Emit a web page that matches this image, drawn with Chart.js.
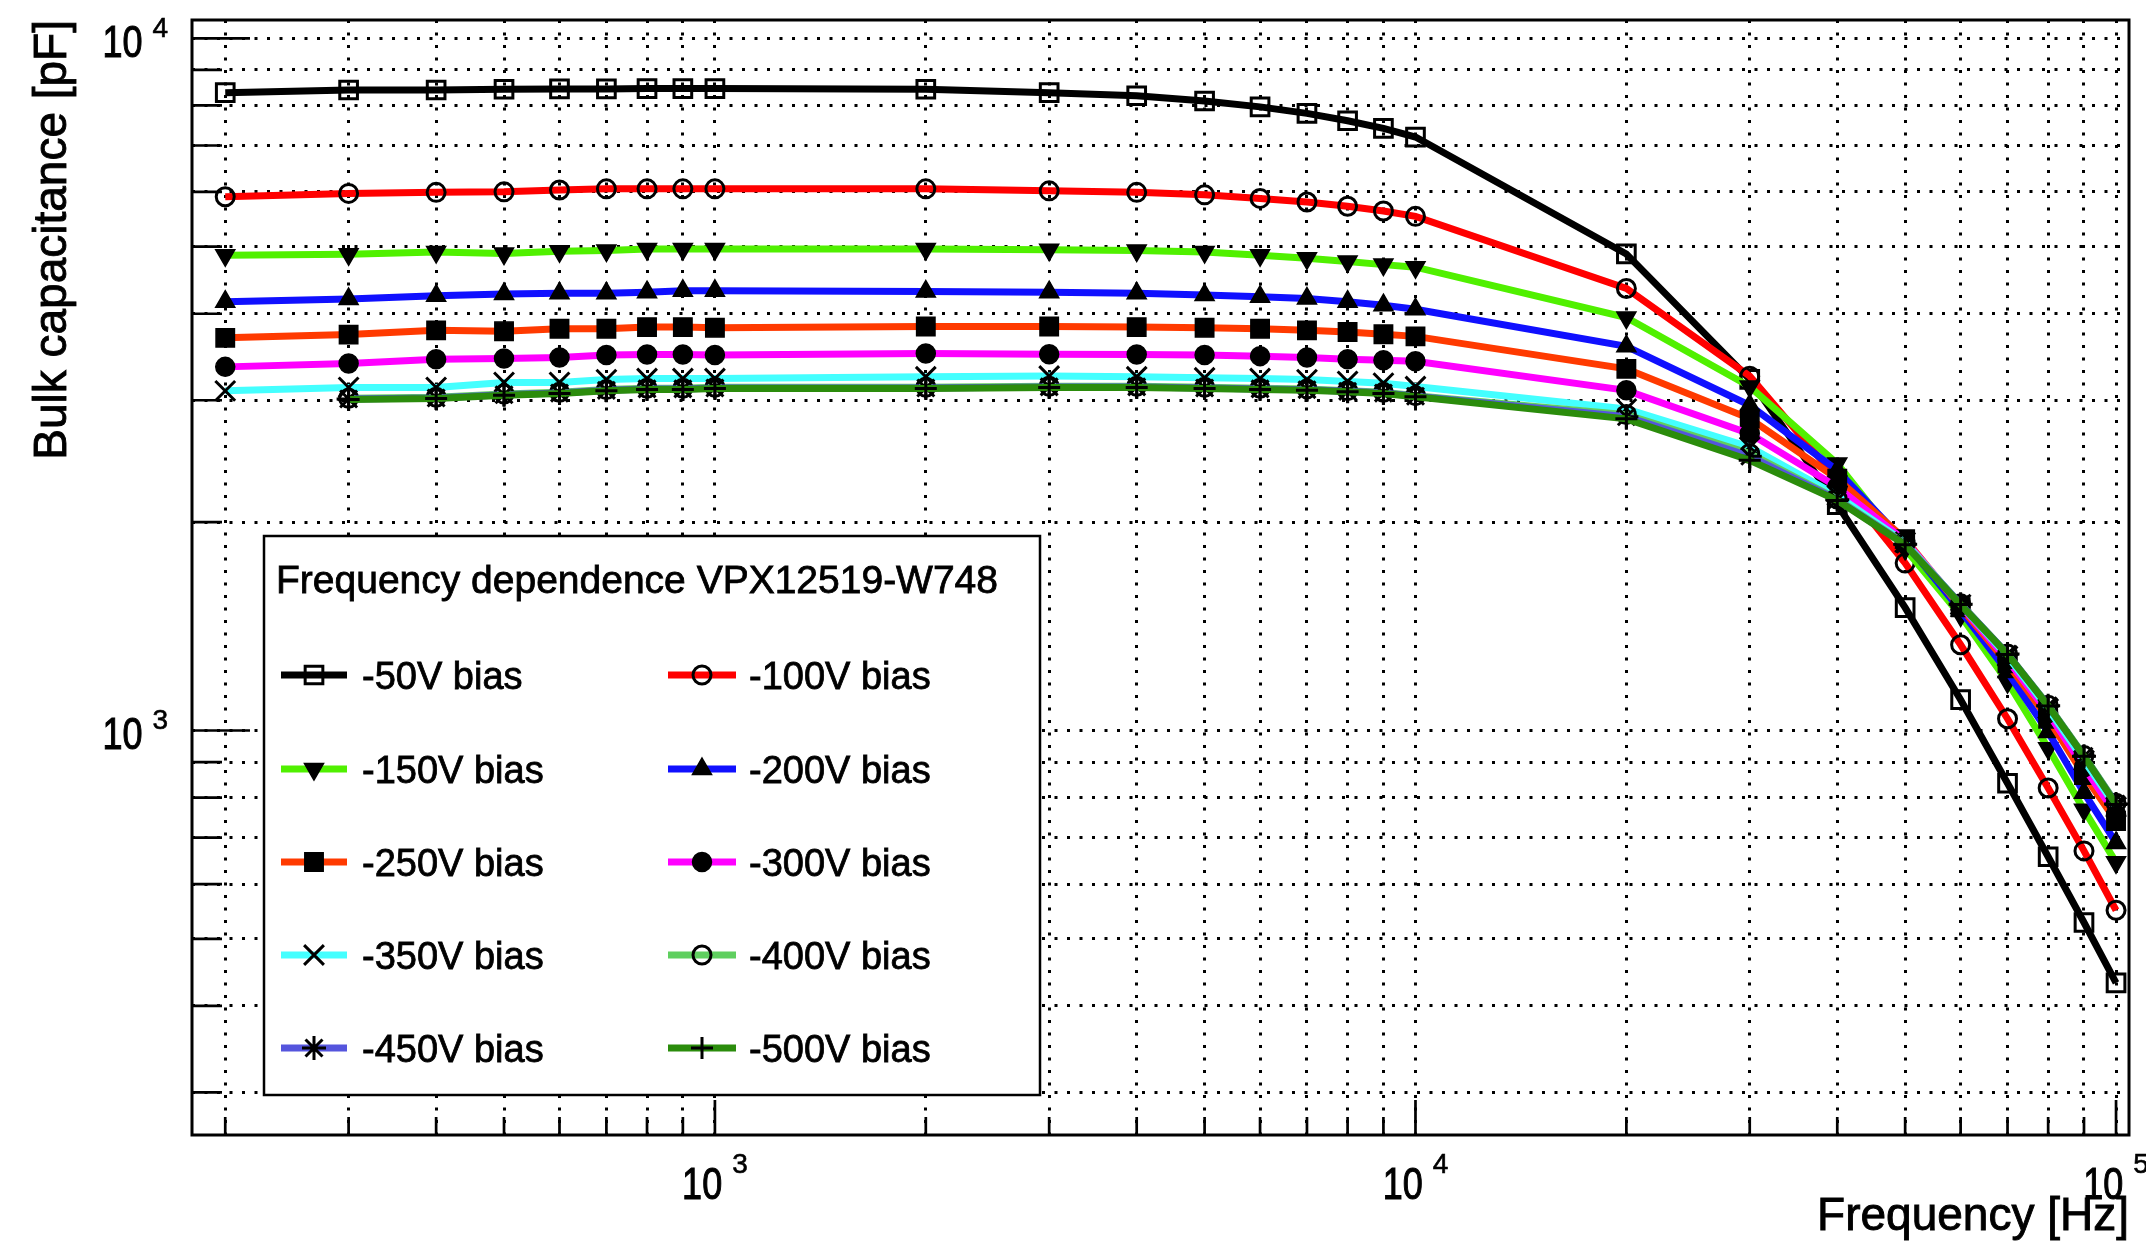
<!DOCTYPE html>
<html>
<head>
<meta charset="utf-8">
<script src="https://cdn.jsdelivr.net/npm/chart.js@4.4.1/dist/chart.umd.min.js"></script>
<style>
  html, body { margin: 0; padding: 0; background: #fff; }
  #wrap { width: 2146px; height: 1245px; }
</style>
</head>
<body>
<div id="wrap"><canvas id="chart" width="2146" height="1245"></canvas></div>
<script>
"use strict";

// frequency points [Hz]
var freqs = [200, 300, 400, 500, 600, 700, 800, 900, 1000,
             2000, 3000, 4000, 5000, 6000, 7000, 8000, 9000, 10000,
             20000, 30000, 40000, 50000, 60000, 70000, 80000, 90000, 100000];

// bulk capacitance [pF], one list per bias voltage
var cap50  = [8346, 8420, 8420, 8440, 8450, 8450, 8460, 8460, 8460, 8440, 8346, 8260, 8117, 7960, 7790, 7600, 7410, 7200, 4880, 3215, 2120, 1505, 1108, 839, 657, 528, 432];
var cap100 = [5903, 5969, 5990, 6000, 6037, 6060, 6060, 6060, 6060, 6060, 6020, 5990, 5940, 5870, 5800, 5720, 5630, 5530, 4351, 3250, 2311, 1745, 1330, 1040, 826, 670, 550];
var cap150 = [4861, 4877, 4912, 4887, 4925, 4937, 4962, 4962, 4962, 4962, 4950, 4937, 4912, 4861, 4810, 4760, 4710, 4670, 3950, 3140, 2430, 1830, 1466, 1175, 943, 768, 645];
var cap200 = [4163, 4200, 4247, 4272, 4282, 4282, 4297, 4317, 4317, 4307, 4297, 4282, 4257, 4232, 4207, 4163, 4115, 4060, 3590, 2950, 2376, 1870, 1490, 1215, 995, 813, 688];
var cap250 = [3692, 3732, 3785, 3773, 3805, 3805, 3826, 3826, 3818, 3834, 3834, 3826, 3818, 3805, 3785, 3765, 3737, 3710, 3330, 2822, 2311, 1890, 1507, 1250, 1040, 862, 740];
var cap300 = [3352, 3390, 3439, 3447, 3459, 3486, 3494, 3494, 3486, 3505, 3497, 3494, 3486, 3474, 3459, 3439, 3428, 3415, 3100, 2685, 2247, 1880, 1515, 1265, 1060, 885, 757];
var cap350 = [3095, 3131, 3131, 3183, 3183, 3213, 3224, 3224, 3224, 3244, 3251, 3244, 3232, 3224, 3213, 3194, 3175, 3140, 2915, 2568, 2186, 1870, 1520, 1280, 1075, 905, 775];
var cap400 = [null, 3020, 3030, 3062, 3080, 3108, 3122, 3122, 3132, 3132, 3143, 3143, 3132, 3122, 3115, 3097, 3080, 3046, 2860, 2512, 2160, 1862, 1524, 1290, 1088, 920, 785];
var cap450 = [null, 3012, 3022, 3055, 3072, 3100, 3115, 3115, 3125, 3125, 3136, 3136, 3125, 3115, 3107, 3090, 3072, 3040, 2840, 2490, 2155, 1858, 1522, 1290, 1086, 918, 783];
var cap500 = [null, 3007, 3017, 3050, 3067, 3095, 3110, 3110, 3120, 3120, 3131, 3131, 3120, 3110, 3102, 3085, 3067, 3034, 2820, 2457, 2150, 1855, 1520, 1288, 1085, 918, 782];

var seriesValues = [cap50, cap100, cap150, cap200, cap250, cap300, cap350, cap400, cap450, cap500];
var seriesLabels = ['-50V bias', '-100V bias', '-150V bias', '-200V bias', '-250V bias',
                    '-300V bias', '-350V bias', '-400V bias', '-450V bias', '-500V bias'];

// axis ticks (grid at every tick, labels on decades)
var xTicks = [200, 300, 400, 500, 600, 700, 800, 900, 1000,
              2000, 3000, 4000, 5000, 6000, 7000, 8000, 9000, 10000,
              20000, 30000, 40000, 50000, 60000, 70000, 80000, 90000, 100000];
var xMajor = [1000, 10000, 100000];
var xMajorExp = ['3', '4', '5'];
var yTicks = [300, 400, 500, 600, 700, 800, 900, 1000,
              2000, 3000, 4000, 5000, 6000, 7000, 8000, 9000, 10000];
var yMajor = [1000, 10000];
var yMajorExp = ['3', '4'];

var xTitle = 'Frequency [Hz]';
var yTitle = 'Bulk capacitance [pF]';
var legendTitle = 'Frequency dependence VPX12519-W748';

// styles
var lineColors = ['#000000', '#ff0000', '#50f000', '#1010ff', '#ff3a00',
                  '#ff00ff', '#44ffff', '#5fcf5f', '#5555dd', '#2b8c0c'];
var markStyles = ['rect', 'circle', 'triangle', 'triangle', 'rect',
                  'circle', 'crossRot', 'circle', 'star', 'cross'];
var markRotation = [0, 0, 180, 0, 0, 0, 0, 0, 0, 0];
var markRadius = [12.5, 9, 11, 11, 13, 9.5, 14, 9, 12, 11];
var markFilled = [false, false, true, true, true, true, false, false, false, false];

var FONT = "'Liberation Sans', Arial, Helvetica, sans-serif";

function makeDatasets() {
    var sets = [];
    for (var i = 0; i < seriesValues.length; i++) {
        var pts = [];
        for (var j = 0; j < freqs.length; j++) {
            if (seriesValues[i][j] !== null) {
                pts.push({x: freqs[j], y: seriesValues[i][j]});
            }
        }
        sets.push({
            label: seriesLabels[i],
            data: pts,
            borderColor: lineColors[i],
            borderWidth: 7,
            tension: 0,
            fill: false,
            pointStyle: markStyles[i],
            pointRotation: markRotation[i],
            pointRadius: markRadius[i],
            pointBorderColor: '#000',
            pointBackgroundColor: markFilled[i] ? '#000' : 'rgba(0,0,0,0)',
            pointBorderWidth: markFilled[i] ? 1.5 : 3,
            order: seriesValues.length - i
        });
    }
    return sets;
}

function isIn(list, v) {
    return list.indexOf(v) >= 0;
}

// filled text with a thin outline, the source renders its text rather heavy
function heavyText(ctx, str, x, y, weight) {
    ctx.fillText(str, x, y);
    ctx.lineWidth = weight;
    ctx.strokeText(str, x, y);
}

// "10" in a narrow face plus a raised exponent, like the ROOT labels
function drawPower(ctx, exp, x, y, align, expRaise) {
    var squeeze = 0.8, gap = 10;
    ctx.font = '45px ' + FONT;
    var w1 = ctx.measureText('10').width * squeeze;
    ctx.font = '28px ' + FONT;
    var w2 = ctx.measureText(exp).width;
    var total = w1 + gap + w2;
    var start = align === 'center' ? x - total / 2 : x - total;
    ctx.textAlign = 'left';
    ctx.save();
    ctx.translate(start, y);
    ctx.scale(squeeze, 1);
    ctx.font = '45px ' + FONT;
    heavyText(ctx, '10', 0, 0, 1.1);
    ctx.restore();
    ctx.font = '28px ' + FONT;
    heavyText(ctx, exp, start + w1 + gap, y - expRaise, 0.6);
}

var rootAxes = {
    id: 'rootAxes',
    beforeDatasetsDraw: function(chart) {
        var ctx = chart.ctx, xs = chart.scales.x, ys = chart.scales.y, a = chart.chartArea;
        ctx.save();
        ctx.strokeStyle = '#000';
        ctx.lineWidth = 2.7;
        ctx.beginPath();
        yTicks.forEach(function(v) {
            var py = ys.getPixelForValue(v);
            var len = isIn(yMajor, v) ? 58 : 30;
            ctx.moveTo(a.left, py);
            ctx.lineTo(a.left + len, py);
        });
        xTicks.forEach(function(v) {
            var px = xs.getPixelForValue(v);
            var len = isIn(xMajor, v) ? 35 : 18;
            ctx.moveTo(px, a.bottom);
            ctx.lineTo(px, a.bottom - len);
        });
        ctx.stroke();
        ctx.restore();
    },
    afterDraw: function(chart) {
        var ctx = chart.ctx, xs = chart.scales.x, ys = chart.scales.y, a = chart.chartArea;
        ctx.save();

        // frame
        ctx.strokeStyle = '#000';
        ctx.lineWidth = 3;
        ctx.strokeRect(a.left, a.top, a.right - a.left, a.bottom - a.top);

        // tick labels
        ctx.fillStyle = '#000';
        ctx.textBaseline = 'alphabetic';
        xMajor.forEach(function(v, k) {
            drawPower(ctx, xMajorExp[k], xs.getPixelForValue(v), a.bottom + 64, 'center', 26);
        });
        yMajor.forEach(function(v, k) {
            drawPower(ctx, yMajorExp[k], 168, ys.getPixelForValue(v) + 19, 'right', 20);
        });

        // axis titles
        ctx.font = '46px ' + FONT;
        ctx.textAlign = 'right';
        heavyText(ctx, xTitle, a.right, 1230, 0.9);
        ctx.save();
        ctx.translate(66, a.top);
        ctx.rotate(-Math.PI / 2);
        heavyText(ctx, yTitle, 0, 0, 0.9);
        ctx.restore();

        // legend box
        var lx = 264, ly = 536, lw = 776, lh = 559;
        ctx.fillStyle = '#fff';
        ctx.fillRect(lx, ly, lw, lh);
        ctx.lineWidth = 2.5;
        ctx.strokeRect(lx, ly, lw, lh);
        ctx.fillStyle = '#000';
        ctx.textAlign = 'left';
        ctx.font = '39px ' + FONT;
        heavyText(ctx, legendTitle, 276, 593, 0.8);

        var rowY = [675, 769, 862, 955, 1048];
        var colLine = [[281, 347], [668, 736]];
        var colText = [362, 749];
        for (var i = 0; i < seriesLabels.length; i++) {
            var r = Math.floor(i / 2), c = i % 2, y = rowY[r];
            ctx.strokeStyle = lineColors[i];
            ctx.lineWidth = 7;
            ctx.beginPath();
            ctx.moveTo(colLine[c][0], y);
            ctx.lineTo(colLine[c][1], y);
            ctx.stroke();
            ctx.strokeStyle = '#000';
            ctx.fillStyle = markFilled[i] ? '#000' : 'rgba(0,0,0,0)';
            ctx.lineWidth = markFilled[i] ? 1.5 : 3;
            Chart.helpers.drawPoint(ctx, {
                pointStyle: markStyles[i],
                rotation: markRotation[i],
                radius: markRadius[i],
                borderWidth: ctx.lineWidth
            }, (colLine[c][0] + colLine[c][1]) / 2, y);
            ctx.fillStyle = '#000';
            ctx.font = '38px ' + FONT;
            heavyText(ctx, seriesLabels[i], colText[c], y + 14, 0.8);
        }
        ctx.restore();
    }
};

var gridOpts = {color: '#000', lineWidth: 3, drawTicks: false};

var chart = new Chart(document.getElementById('chart'), {
    type: 'line',
    data: {datasets: makeDatasets()},
    options: {
        responsive: false,
        animation: false,
        devicePixelRatio: 1,
        events: [],
        layout: {padding: {left: 0, top: 20, right: 13, bottom: 0}},
        plugins: {legend: {display: false}, tooltip: {enabled: false}},
        scales: {
            x: {
                type: 'logarithmic',
                min: 179.3,
                max: 104350,
                ticks: {display: false},
                grid: gridOpts,
                border: {display: false, dash: [3, 9.5]},
                afterBuildTicks: function(axis) {
                    axis.ticks = xTicks.map(function(v) { return {value: v}; });
                },
                afterFit: function(axis) { axis.height = 110; }
            },
            y: {
                type: 'logarithmic',
                min: 260.4,
                max: 10627,
                ticks: {display: false},
                grid: gridOpts,
                border: {display: false, dash: [3, 9.5]},
                afterBuildTicks: function(axis) {
                    axis.ticks = yTicks.map(function(v) { return {value: v}; });
                },
                afterFit: function(axis) { axis.width = 192; }
            }
        }
    },
    plugins: [rootAxes]
});
</script>
</body>
</html>
